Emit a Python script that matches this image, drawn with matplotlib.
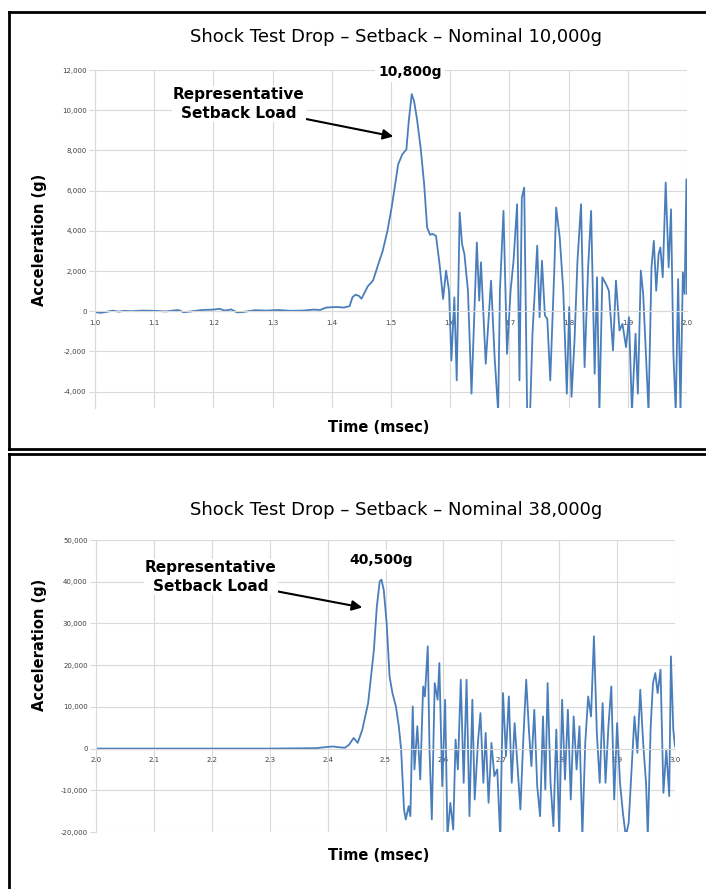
import matplotlib
matplotlib.use("Agg")
import matplotlib.pyplot as plt
from matplotlib.lines import Line2D
from matplotlib.ticker import FuncFormatter, MultipleLocator

# ---- data ----
# Drop 1: nominal 10,000 g
t1 = [1.000, 1.010, 1.020, 1.030, 1.040, 1.050, 1.060, 1.080, 1.100, 1.120,
      1.140, 1.150, 1.160, 1.180, 1.200, 1.210, 1.220, 1.230, 1.240, 1.250,
      1.270, 1.290, 1.310, 1.330, 1.350, 1.370, 1.380, 1.390, 1.400, 1.410,
      1.420, 1.430, 1.435, 1.440, 1.446, 1.450, 1.455, 1.461, 1.466, 1.470,
      1.477, 1.486, 1.494, 1.501, 1.507, 1.512, 1.519, 1.526, 1.530, 1.535,
      1.539, 1.544, 1.550, 1.556, 1.561, 1.566, 1.570, 1.576, 1.582, 1.588,
      1.593, 1.598, 1.602, 1.607, 1.611, 1.616, 1.620, 1.624, 1.630, 1.636,
      1.645, 1.649, 1.652, 1.660, 1.669, 1.675, 1.681, 1.684, 1.690, 1.696,
      1.702, 1.707, 1.713, 1.717, 1.721, 1.725, 1.730, 1.735, 1.739, 1.747,
      1.751, 1.755, 1.760, 1.764, 1.769, 1.776, 1.779, 1.785, 1.791, 1.797,
      1.801, 1.805, 1.810, 1.815, 1.821, 1.827, 1.833, 1.838, 1.844, 1.848,
      1.852, 1.857, 1.863, 1.868, 1.875, 1.880, 1.886, 1.891, 1.897, 1.902,
      1.907, 1.913, 1.917, 1.922, 1.926, 1.931, 1.935, 1.940, 1.944, 1.948,
      1.952, 1.955, 1.959, 1.964, 1.969, 1.973, 1.977, 1.981, 1.985, 1.989,
      1.993, 1.996, 1.999, 2.000]
a1 = [-50, -80, -30, 30, -20, 20, 0, 30, 20, -10,
      60, -50, -20, 60, 80, 120, 30, 90, -60, -40,
      50, 30, 60, 20, 30, 80, 60, 180, 200, 210,
      180, 250, 700, 820, 760, 620, 900, 1250, 1400, 1550,
      2200, 3000, 4000, 5150, 6300, 7300, 7800, 8050, 9460, 10800,
      10450, 9540, 8140, 6320, 4170, 3800, 3850, 3750, 2350, 610,
      2020, 1020, -2450, 690, -3440, 4910, 3340, 2840, 1020, -4100,
      3420, 530, 2430, -2610, 1520, -2280, -5000, 1020, 4990, -2120,
      1020, 2510, 5320, -3440, 5650, 6150, -5000, -5000, -1120, 3260,
      -300, 2510, -210, -380, -3440, 2180, 5160, 3670, 1020, -4100,
      200, -4260, -1450, 2510, 5320, -2780, 2180, 4990, -3110, 1690,
      -5000, 1690, 1360, 1020, -1950, 1520, -960, -630, -1790, -300,
      -5000, -1120, -4100, 2020, 860, -2450, -5000, 2180, 3500, 1020,
      2840, 3170, 1690, 6400, 2180, 5070, -2120, -5000, 1600, -5000,
      1930, 860, 6560, 860]

# Drop 2: nominal 38,000 g
t2 = [2.000, 2.100, 2.200, 2.300, 2.380, 2.400, 2.410, 2.420, 2.430, 2.437,
      2.445, 2.452, 2.460, 2.470, 2.480, 2.485, 2.490, 2.493, 2.497, 2.502,
      2.507, 2.512, 2.518, 2.523, 2.527, 2.532, 2.535, 2.540, 2.543, 2.547,
      2.550, 2.555, 2.560, 2.565, 2.568, 2.573, 2.576, 2.580, 2.585, 2.590,
      2.593, 2.598, 2.603, 2.607, 2.612, 2.617, 2.621, 2.625, 2.630, 2.635,
      2.640, 2.645, 2.650, 2.654, 2.660, 2.664, 2.669, 2.673, 2.678, 2.683,
      2.688, 2.693, 2.698, 2.703, 2.708, 2.713, 2.718, 2.723, 2.728, 2.733,
      2.738, 2.743, 2.748, 2.752, 2.757, 2.762, 2.767, 2.772, 2.776, 2.780,
      2.785, 2.790, 2.795, 2.800, 2.805, 2.810, 2.815, 2.820, 2.825, 2.830,
      2.835, 2.840, 2.845, 2.850, 2.855, 2.860, 2.865, 2.870, 2.875, 2.880,
      2.885, 2.890, 2.895, 2.900, 2.905, 2.910, 2.915, 2.920, 2.925, 2.930,
      2.935, 2.940, 2.945, 2.950, 2.953, 2.958, 2.962, 2.966, 2.970, 2.975,
      2.980, 2.985, 2.990, 2.993, 2.997, 3.000]
a2 = [0, 0, 0, 0, 100, 400, 500, 300, 200, 900,
      2550, 1360, 4550, 10900, 23700, 34000, 40100, 40500, 38000, 30100,
      17300, 13300, 10100, 5350, -240, -14600, -17000, -13800, -16200, 10100,
      -5000, 5350, -7400, 14900, 12500, 24500, -240, -17000, 15700, 11700,
      20500, -9000, 11700, -21000, -13000, -19400, 2150, -5000, 16500, -8200,
      16500, -16200, 11700, -12200, 2150, 8500, -8200, 3750, -13000, 1360,
      -6600, -5000, -21000, 13300, -1800, 12500, -8200, 6100, -4200, -14600,
      2150, 16500, 3750, -4200, 9300, -9000, -16200, 7700, -9800, 15700,
      -8200, -18600, 4550, -21000, 11700, -7400, 9300, -12200, 7700, -5000,
      5350, -21000, 1360, 12500, 7700, 26900, 3750, -8200, 10900, -8200,
      5350, 14900, -12200, 6100, -8200, -15400, -21000, -17800, -5000, 7700,
      -1000, 14100, 1360, -8200, -21000, 5350, 15700, 18100, 13300, 18900,
      -10600, -240, -11400, 22100, 4550, 500]

panels = [
    dict(t=t1, a=a1, title="Shock Test Drop \u2013 Setback \u2013 Nominal 10,000g",
         xlim=(1.0, 2.0), ylim=(-4800, 12000), ystep=2000, peak="10,800g",
         rect=[95 / 706, 1 - 407.7 / 889, 592 / 706, 337.7 / 889],
         title_y=37, xlab_y=428, ylab_y=240, peak_xy=(410, 72),
         rep_xy=(239, 104), arrow=((301, 118), (396, 137))),
    dict(t=t2, a=a2, title="Shock Test Drop \u2013 Setback \u2013 Nominal 38,000g",
         xlim=(2.0, 3.0), ylim=(-20000, 50000), ystep=10000, peak="40,500g",
         rect=[96 / 706, 1 - 832 / 889, 579 / 706, 292 / 889],
         title_y=510, xlab_y=855, ylab_y=645, peak_xy=(381, 560),
         rep_xy=(211, 577), arrow=((270, 590), (365, 608))),
]

W, H = 706, 889
fig = plt.figure(figsize=(W / 100, H / 100), dpi=100)
fig.patch.set_facecolor("white")


def fx(px):
    return px / W


def fy(py):
    return 1 - py / H


grid_c = "#d9d9d9"

for p in panels:
    ax = fig.add_axes(p["rect"])
    ax.plot(p["t"], p["a"], color="#4a7ebb", lw=1.3)
    ax.set_xlim(*p["xlim"])
    ax.set_ylim(*p["ylim"])
    ax.xaxis.set_major_locator(MultipleLocator(0.1))
    ax.yaxis.set_major_locator(MultipleLocator(p["ystep"]))
    ax.xaxis.set_major_formatter(FuncFormatter(lambda v, pos: f"{v:.1f}"))
    ax.yaxis.set_major_formatter(FuncFormatter(lambda v, pos: f"{v:,.0f}"))
    ax.grid(True, color=grid_c, lw=0.8)
    ax.set_axisbelow(True)
    for s in ["top", "right"]:
        ax.spines[s].set_visible(False)
    ax.spines["left"].set_color(grid_c)
    ax.spines["bottom"].set_color(grid_c)
    ax.spines["bottom"].set_position(("data", 0))
    ax.tick_params(axis="y", length=4, width=0.8, color=grid_c, labelsize=5,
                   labelcolor="#404040", pad=2)
    ax.tick_params(axis="x", length=0, labelsize=5, labelcolor="#404040", pad=6)

    fig.text(fx(396), fy(p["title_y"]), p["title"], ha="center", va="center",
             fontsize=13)
    fig.text(fx(40), fy(p["ylab_y"]), "Acceleration (g)", rotation=90,
             ha="center", va="center", fontsize=10.5, fontweight="bold")
    fig.text(fx(379), fy(p["xlab_y"]), "Time (msec)", ha="center", va="center",
             fontsize=10.5, fontweight="bold")
    fig.text(fx(p["peak_xy"][0]), fy(p["peak_xy"][1]), p["peak"], ha="center",
             va="center", fontsize=10, fontweight="bold",
             bbox=dict(fc="white", ec="none", pad=2))
    fig.text(fx(p["rep_xy"][0]), fy(p["rep_xy"][1]), "Representative\nSetback Load",
             ha="center", va="center", fontsize=11, fontweight="bold",
             linespacing=1.35, bbox=dict(fc="white", ec="none", pad=1))
    (x0, y0), (x1, y1) = p["arrow"]
    fig.add_artist(matplotlib.patches.FancyArrowPatch(
        (fx(x0), fy(y0)), (fx(x1), fy(y1)), transform=fig.transFigure,
        arrowstyle="-|>,head_length=6,head_width=3", color="black", lw=1.5))

# panel frames
frame_kw = dict(color="black", lw=2.0, transform=fig.transFigure)
fig.add_artist(Line2D([fx(8.5), fx(8.5)], [fy(12), fy(449)], **frame_kw))
fig.add_artist(Line2D([fx(8.5), 1], [fy(12), fy(12)], **frame_kw))
fig.add_artist(Line2D([fx(8.5), 1], [fy(449), fy(449)], **frame_kw))
fig.add_artist(Line2D([fx(8.5), 1], [fy(454), fy(454)], **frame_kw))
fig.add_artist(Line2D([fx(8.5), fx(8.5)], [fy(454), 0], **frame_kw))

fig.savefig("out.png", dpi=100, facecolor="white")
